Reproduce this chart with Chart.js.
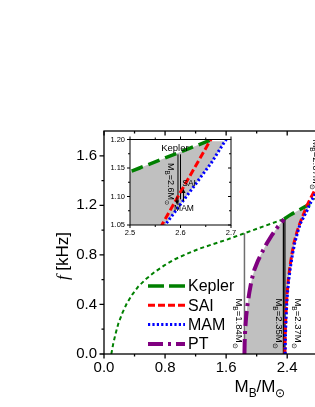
<!DOCTYPE html>
<html>
<head>
<meta charset="utf-8">
<script src="https://cdn.jsdelivr.net/npm/chart.js@4.4.1/dist/chart.umd.min.js"></script>
<style>
  html, body { margin: 0; padding: 0; background: #fff; overflow: hidden; width: 315px; height: 407px; }
  #main  { position: absolute; left: 0; top: 0; }
  #inset { position: absolute; left: 106px; top: 130px; }
</style>
</head>
<body>
<canvas id="main" width="340" height="407"></canvas>
<canvas id="inset" width="134" height="110"></canvas>
<script>
/* ---------- values ---------- */

// Kepler (mass-shedding) frequency, thin dashed part
const keplerM = [0.096, 0.12, 0.15, 0.19, 0.24, 0.30, 0.37, 0.45, 0.55, 0.66, 0.79, 0.93, 1.09, 1.25, 1.42, 1.62, 1.84, 2.11, 2.36];
const keplerF = [0, 0.08, 0.16, 0.25, 0.33, 0.41, 0.48, 0.545, 0.605, 0.66, 0.715, 0.765, 0.81, 0.85, 0.885, 0.925, 0.975, 1.035, 1.09];
// Kepler, thick long-dash part
const keplerHiM = [2.36, 2.42, 2.47, 2.519, 2.562, 2.608, 2.654, 2.70, 2.77, 2.85];
const keplerHiF = [1.09, 1.115, 1.133, 1.150, 1.165, 1.181, 1.197, 1.213, 1.245, 1.28];

const saiM = [2.37, 2.372, 2.376, 2.382, 2.39, 2.40, 2.415, 2.435, 2.46, 2.49, 2.53, 2.565, 2.595, 2.625, 2.658, 2.70, 2.76];
const saiF = [0, 0.1, 0.2, 0.3, 0.4, 0.5, 0.6, 0.7, 0.8, 0.9, 0.99, 1.053, 1.10, 1.146, 1.197, 1.25, 1.32];

const mamM = [2.374, 2.376, 2.38, 2.386, 2.394, 2.405, 2.421, 2.442, 2.468, 2.50, 2.54, 2.572, 2.615, 2.661, 2.688, 2.73, 2.78];
const mamF = [0, 0.1, 0.2, 0.3, 0.4, 0.5, 0.6, 0.7, 0.8, 0.9, 0.99, 1.053, 1.104, 1.159, 1.197, 1.25, 1.31];

const ptM = [1.84, 1.843, 1.85, 1.862, 1.88, 1.905, 1.935, 1.97, 2.015, 2.07, 2.13, 2.20, 2.28, 2.36];
const ptF = [0, 0.1, 0.2, 0.3, 0.4, 0.5, 0.6, 0.68, 0.75, 0.82, 0.89, 0.96, 1.03, 1.088];

// vertical marker lines (main plot)
const lineM = [1.84, 2.35, 2.37];
const lineTopF = [0.975, 1.087, 1.092];
const lineLabels = ['1.84', '2.35', '2.37'];

// vertical marker lines (inset)
const insetLineM = [2.595, 2.600];
const insetLineTopF = [1.174, 1.174];
const insetLineBottomF = [1.085, 1.095];

// axes
const xTicks = [0, 0.8, 1.6, 2.4];
const xTickLabels = ['0.0', '0.8', '1.6', '2.4'];
const xMinorTicks = [0.4, 1.2, 2.0, 2.8];
const yTicks = [0, 0.4, 0.8, 1.2, 1.6];
const yTickLabels = ['0.0', '0.4', '0.8', '1.2', '1.6'];
const yMinorTicks = [0.2, 0.6, 1.0, 1.4];

const insetXTicks = [2.5, 2.6, 2.7];
const insetXTickLabels = ['2.5', '2.6', '2.7'];
const insetXMinorTicks = [2.55, 2.65];
const insetYTicks = [1.05, 1.10, 1.15, 1.20];
const insetYTickLabels = ['1.05', '1.10', '1.15', '1.20'];
const insetYMinorTicks = [1.075, 1.125, 1.175];

const legendNames = ['Kepler', 'SAI', 'MAM', 'PT'];

/* ---------- styles ---------- */

const FONT = "'Liberation Sans', Arial, Helvetica, sans-serif";
const SERIF = "'Liberation Serif', 'Times New Roman', serif";
const GRAY = '#c0c0c0';

const ST = {
    keplerThin: { color: '#008000', width: 2,   dash: [4, 3] },
    kepler:     { color: '#008000', width: 3.5, dash: [12, 6] },
    sai:        { color: '#ff0000', width: 3,   dash: [7, 3] },
    mam:        { color: '#0000ff', width: 3,   dash: [2.2, 2.2] },
    pt:         { color: '#800080', width: 4,   dash: [15, 5, 3, 5] }
};
const legendStyles = [ST.kepler, ST.sai, ST.mam, ST.pt];

Chart.defaults.font.family = FONT;
Chart.defaults.color = '#000';

/* ---------- helpers ---------- */

const pts = (ms, fs) => ms.map((m, i) => ({ x: m, y: fs[i] }));

function curve(label, ms, fs, st, order) {
    return {
        label, data: pts(ms, fs), order,
        borderColor: st.color, borderWidth: st.width, borderDash: st.dash,
        pointRadius: 0, fill: false, tension: 0
    };
}

function vline(m, f0, f1, color, width, order) {
    return {
        data: [{ x: m, y: f0 }, { x: m, y: f1 }], order,
        borderColor: color, borderWidth: width,
        pointRadius: 0, fill: false
    };
}

// shaded region: right of PT, under Kepler, left of MAM
function grayRegion() {
    const cut = 2.69;
    const lastPt = ptM[ptM.length - 1];
    const poly = [
        ...pts(ptM, ptF),
        ...pts(keplerHiM, keplerHiF).filter(p => p.x > lastPt && p.x <= cut),
        ...pts(mamM, mamF).filter(p => p.x <= cut).reverse()
    ];
    return {
        data: poly, order: 20, fill: 'shape',
        backgroundColor: GRAY, borderColor: 'rgba(0,0,0,0)', borderWidth: 1,
        pointRadius: 0, tension: 0
    };
}

// text with subscripts; parts = [{t, sub, it, serif}], centred on (cx, cy)
function drawRich(ctx, parts, cx, cy, size, angle) {
    const subSize = size * 0.7;
    const font = (p) => (p.it ? 'italic ' : '') + (p.sub ? subSize : size) + 'px ' + (p.serif ? SERIF : FONT);
    ctx.save();
    ctx.translate(cx, cy);
    ctx.rotate(angle);
    ctx.fillStyle = '#000';
    ctx.textAlign = 'left';
    ctx.textBaseline = 'alphabetic';
    let w = 0;
    for (const p of parts) { ctx.font = font(p); w += ctx.measureText(p.t).width; }
    let px = -w / 2;
    const base = size * 0.36;
    for (const p of parts) {
        ctx.font = font(p);
        ctx.fillText(p.t, px, base + (p.sub ? size * 0.3 : 0));
        px += ctx.measureText(p.t).width;
    }
    ctx.restore();
}

const massLabel = (s) => [{ t: 'M' }, { t: 'B', sub: 1 }, { t: '=' + s + 'M' }, { t: '\u2299', sub: 1 }];

// box + tick marks on all four sides
function drawFrame(chart, o) {
    const { ctx, chartArea: a, scales: { x, y } } = chart;
    ctx.save();
    ctx.strokeStyle = '#000';
    ctx.lineWidth = o.lw;
    ctx.setLineDash([]);
    ctx.strokeRect(a.left, a.top, a.right - a.left, a.bottom - a.top);
    ctx.beginPath();
    const seg = (x0, y0, x1, y1) => { ctx.moveTo(x0, y0); ctx.lineTo(x1, y1); };
    const marks = [[o.xMajor, o.yMajor, o.len], [o.xMinor, o.yMinor, o.minorLen]];
    for (const [xs, ys, L] of marks) {
        for (const v of xs) {
            const px = x.getPixelForValue(v);
            seg(px, a.bottom, px, a.bottom + (o.out.bottom ? L : -L));
            seg(px, a.top, px, a.top + (o.out.top ? -L : L));
        }
        for (const v of ys) {
            const py = y.getPixelForValue(v);
            seg(a.left, py, a.left + (o.out.left ? -L : L), py);
            seg(a.right, py, a.right + (o.out.right ? L : -L), py);
        }
    }
    ctx.stroke();
    ctx.restore();
}

function arrow(ctx, px, y0, y1) {
    const dir = Math.sign(y1 - y0);
    ctx.save();
    ctx.strokeStyle = '#000';
    ctx.fillStyle = '#000';
    ctx.lineWidth = 1;
    ctx.setLineDash([]);
    ctx.beginPath();
    ctx.moveTo(px, y0);
    ctx.lineTo(px, y1 - dir * 3);
    ctx.stroke();
    ctx.beginPath();
    ctx.moveTo(px, y1);
    ctx.lineTo(px - 2, y1 - dir * 4);
    ctx.lineTo(px + 2, y1 - dir * 4);
    ctx.closePath();
    ctx.fill();
    ctx.restore();
}

function axisOpts(min, max, ticks, labels, size, padding, fitKey, fitVal) {
    return {
        type: 'linear', min, max,
        grid: { display: false, drawTicks: false, tickLength: 0 },
        border: { display: false },
        ticks: {
            font: { size, family: FONT }, color: '#000', padding,
            autoSkip: false, maxRotation: 0,
            callback: (v, i) => labels[i]
        },
        afterBuildTicks: (s) => { s.ticks = ticks.map(v => ({ value: v })); },
        afterFit: (s) => { s[fitKey] = fitVal; }
    };
}

/* ---------- main chart ---------- */

const mainDecor = {
    id: 'mainDecor',
    afterDatasetsDraw(chart) {
        const { ctx, scales: { x, y } } = chart;
        drawFrame(chart, {
            xMajor: xTicks, xMinor: xMinorTicks, yMajor: yTicks, yMinor: yMinorTicks,
            len: 4.5, minorLen: 2.5, lw: 1.3,
            out: { left: true, bottom: true, top: false, right: false }
        });

        // rotated labels next to the marker lines
        const labelM = [1.775, 2.293, 2.542];
        lineLabels.forEach((s, i) => {
            drawRich(ctx, massLabel(s), x.getPixelForValue(labelM[i]), y.getPixelForValue(0.246), 9.5, Math.PI / 2);
        });
        drawRich(ctx, massLabel('2.67'), x.getPixelForValue(2.78), y.getPixelForValue(1.529), 9.5, Math.PI / 2);

        // legend
        ctx.save();
        legendNames.forEach((name, i) => {
            const st = legendStyles[i];
            const ly = 286 + i * 19.3;
            ctx.strokeStyle = st.color;
            ctx.lineWidth = st.width;
            ctx.setLineDash(i === 0 ? [16, 5] : st.dash);
            ctx.beginPath();
            ctx.moveTo(148, ly);
            ctx.lineTo(185, ly);
            ctx.stroke();
            ctx.fillStyle = '#000';
            ctx.font = '16px ' + FONT;
            ctx.textBaseline = 'middle';
            ctx.fillText(name, 188, ly + 1);
        });
        ctx.restore();

        // axis titles
        drawRich(ctx, [{ t: 'M' }, { t: 'B', sub: 1 }, { t: '/M' }, { t: '\u2299', sub: 1 }], 260, 386, 17, 0);
        drawRich(ctx, [{ t: 'f', it: 1, serif: 1 }, { t: ' [kHz]' }], 62, 256, 17, -Math.PI / 2);
    }
};

new Chart(document.getElementById('main'), {
    type: 'line',
    data: {
        datasets: [
            grayRegion(),
            vline(lineM[0], 0, lineTopF[0], '#6e6e6e', 1.5, 10),
            vline(lineM[1], 0, lineTopF[1], '#000', 1.2, 10),
            vline(lineM[2], 0, lineTopF[2], '#000', 1.2, 10),
            curve('Kepler', keplerM, keplerF, ST.keplerThin, 6),
            curve('Kepler', keplerHiM, keplerHiF, ST.kepler, 5),
            curve('PT', ptM, ptF, ST.pt, 4),
            curve('SAI', saiM, saiF, ST.sai, 3),
            curve('MAM', mamM, mamF, ST.mam, 2)
        ]
    },
    options: {
        responsive: false,
        animation: false,
        events: [],
        devicePixelRatio: 1,
        layout: { padding: { top: 131, right: 7, left: 0, bottom: 0 } },
        plugins: { legend: { display: false }, tooltip: { enabled: false } },
        scales: {
            x: axisOpts(0, 3.0, xTicks, xTickLabels, 15, 5, 'height', 53),
            y: axisOpts(0, 1.8, yTicks, yTickLabels, 15, 7, 'width', 104)
        }
    },
    plugins: [mainDecor]
});

/* ---------- inset ---------- */

const insetDecor = {
    id: 'insetDecor',
    beforeDraw(chart) {
        const { ctx, chartArea: a } = chart;
        ctx.save();
        ctx.fillStyle = '#fff';
        ctx.fillRect(a.left, a.top, a.right - a.left, a.bottom - a.top);
        ctx.restore();
    },
    afterDatasetsDraw(chart) {
        const { ctx, scales: { x, y } } = chart;
        drawFrame(chart, {
            xMajor: insetXTicks, xMinor: insetXMinorTicks, yMajor: insetYTicks, yMinor: insetYMinorTicks,
            len: 3, minorLen: 2, lw: 1,
            out: { left: true, bottom: true, top: true, right: false }
        });
        ctx.save();
        ctx.fillStyle = '#000';
        ctx.textAlign = 'center';
        ctx.textBaseline = 'middle';
        ctx.font = '9.5px ' + FONT;
        ctx.fillText('Kepler', x.getPixelForValue(2.589), y.getPixelForValue(1.1845));
        ctx.font = '8.5px ' + FONT;
        ctx.fillText('SAI', x.getPixelForValue(2.617), y.getPixelForValue(1.122));
        ctx.fillText('MAM', x.getPixelForValue(2.607), y.getPixelForValue(1.079));
        ctx.restore();
        drawRich(ctx, massLabel('2.6'), x.getPixelForValue(2.581), y.getPixelForValue(1.122), 9, Math.PI / 2);
        arrow(ctx, x.getPixelForValue(2.593), y.getPixelForValue(1.100), y.getPixelForValue(1.086));
        arrow(ctx, x.getPixelForValue(2.606), y.getPixelForValue(1.092), y.getPixelForValue(1.113));
    }
};

new Chart(document.getElementById('inset'), {
    type: 'line',
    data: {
        datasets: [
            grayRegion(),
            vline(insetLineM[0], insetLineBottomF[0], insetLineTopF[0], '#000', 1, 10),
            vline(insetLineM[1], insetLineBottomF[1], insetLineTopF[1], '#000', 1, 10),
            curve('Kepler', keplerHiM, keplerHiF, ST.kepler, 5),
            curve('SAI', saiM, saiF, ST.sai, 3),
            curve('MAM', mamM, mamF, ST.mam, 2)
        ]
    },
    options: {
        responsive: false,
        animation: false,
        events: [],
        devicePixelRatio: 1,
        layout: { padding: { top: 8, right: 9, left: 0, bottom: 0 } },
        plugins: { legend: { display: false }, tooltip: { enabled: false } },
        scales: {
            x: axisOpts(2.5, 2.7, insetXTicks, insetXTickLabels, 7.5, 3, 'height', 15),
            y: axisOpts(1.05, 1.20, insetYTicks, insetYTickLabels, 7.5, 5, 'width', 24)
        }
    },
    plugins: [insetDecor]
});
</script>
</body>
</html>
